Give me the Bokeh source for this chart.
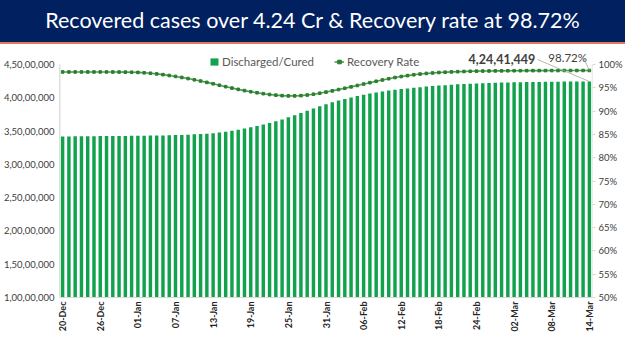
import math
import pandas as pd
from bokeh.plotting import figure
from bokeh.models import (Range1d, LinearAxis, FixedTicker, Legend, LegendItem,
                          Label, Arrow, ColumnDataSource, Div)
from bokeh.layouts import column
from bokeh.embed import file_html
from bokeh.resources import INLINE

# ---------------- data ----------------
title_text = "Recovered cases over 4.24 Cr & Recovery rate at 98.72%"
dates = [d.strftime("%d-%b") for d in pd.date_range("2021-12-20", "2022-03-14")]

discharged_lakh = [
    341.95, 342.03, 342.11, 342.19, 342.27, 342.35, 342.43, 342.51, 342.59, 342.67,
    342.76, 342.85, 342.95, 343.06, 343.18, 343.33, 343.50, 343.71, 343.96, 344.26,
    344.62, 345.04, 345.55, 346.15, 346.90, 347.90, 349.10, 350.50, 352.00, 353.70,
    355.60, 357.60, 359.80, 362.10, 364.60, 367.50, 370.60, 373.90, 377.30, 380.60,
    384.00, 387.20, 390.30, 393.20, 395.80, 398.30, 400.60, 402.70, 404.60, 406.30,
    407.90, 409.40, 410.80, 412.00, 413.10, 414.10, 415.10, 416.00, 416.80, 417.60,
    418.30, 419.00, 419.60, 420.20, 420.70, 421.10, 421.50, 421.90, 422.20, 422.50,
    422.80, 423.00, 423.20, 423.40, 423.60, 423.75, 423.90, 424.02, 424.12, 424.21,
    424.28, 424.34, 424.38, 424.40, 424.41449,
]

recovery_rate = [
    98.40, 98.40, 98.40, 98.40, 98.40, 98.40, 98.40, 98.40, 98.39, 98.38,
    98.36, 98.34, 98.30, 98.22, 98.12, 97.98, 97.82, 97.64, 97.44, 97.22,
    96.98, 96.72, 96.45, 96.16, 95.86, 95.55, 95.24, 94.94, 94.66, 94.40,
    94.16, 93.94, 93.74, 93.56, 93.42, 93.32, 93.26, 93.26, 93.32, 93.44,
    93.62, 93.84, 94.08, 94.34, 94.62, 94.90, 95.20, 95.50, 95.80, 96.10,
    96.40, 96.68, 96.95, 97.20, 97.42, 97.62, 97.80, 97.95, 98.08, 98.19,
    98.28, 98.35, 98.41, 98.46, 98.50, 98.54, 98.57, 98.59, 98.61, 98.63,
    98.64, 98.65, 98.66, 98.67, 98.68, 98.68, 98.69, 98.69, 98.70, 98.70,
    98.71, 98.71, 98.71, 98.72, 98.72,
]

left_ticks = [10000000, 15000000, 20000000, 25000000, 30000000, 35000000, 40000000, 45000000]
left_tick_labels = ["1,00,00,000", "1,50,00,000", "2,00,00,000", "2,50,00,000",
                    "3,00,00,000", "3,50,00,000", "4,00,00,000", "4,50,00,000"]
right_ticks = [50, 55, 60, 65, 70, 75, 80, 85, 90, 95, 100]
right_tick_labels = ["50%", "55%", "60%", "65%", "70%", "75%", "80%", "85%", "90%", "95%", "100%"]
last_value_label = "4,24,41,449"
last_rate_label = "98.72%"

# ---------------- styles / layout ----------------
FONT = "Lato"
NAVY = "#002060"
BAR = "#12A24E"
LINE = "#47A247"
MARK = "#2E7D32"
TXT = "#404040"
BANNER_H = 44
AXIS_H = 233          # pixels from 4.5 Cr / 100% down to 1 Cr / 50%
TOP_PAD = 20          # pixels between the frame top and the 4.5 Cr level
FRAME_W = 535

LEFT_MIN, LEFT_MAX = left_ticks[0], left_ticks[-1]
RIGHT_MIN, RIGHT_MAX = right_ticks[0], right_ticks[-1]
y_per_px = (LEFT_MAX - LEFT_MIN) / AXIS_H
r_per_px = (RIGHT_MAX - RIGHT_MIN) / AXIS_H

discharged = [v * 1e5 for v in discharged_lakh]
idx = list(range(len(dates)))
src = ColumnDataSource(dict(x=idx, date=dates, discharged=discharged, rate=recovery_rate))

# ---------------- banner ----------------
banner = Div(text=title_text, render_as_text=True, width=625, height=BANNER_H,
             styles={"background-color": NAVY, "color": "white",
                     "font-family": "Lato", "font-size": "21.5px",
                     "text-align": "center", "line-height": "41px",
                     "border-bottom": "2px solid #E07A5F",
                     "box-sizing": "border-box", "width": "625px",
                     "height": f"{BANNER_H}px", "margin": "0", "padding": "0"})

# ---------------- chart ----------------
p = figure(width=625, height=351 - BANNER_H,
           x_range=Range1d(-0.5, len(dates) - 0.5),
           y_range=Range1d(LEFT_MIN, LEFT_MAX + TOP_PAD * y_per_px),
           toolbar_location=None, output_backend="svg",
           min_border_left=57, min_border_right=33, min_border_top=0,
           min_border_bottom=54, outline_line_color=None,
           background_fill_color="white", border_fill_color="white")
p.grid.visible = False
p.extra_y_ranges = {"rate": Range1d(RIGHT_MIN, RIGHT_MAX + TOP_PAD * r_per_px)}

bars = p.vbar(x="x", top="discharged", bottom=0, width=0.55, source=src,
              fill_color=BAR, line_color=None)
ln = p.line(x="x", y="rate", source=src, y_range_name="rate", line_color=LINE,
            line_width=1.6)
sc = p.scatter(x="x", y="rate", source=src, y_range_name="rate", marker="square",
               size=2.6, fill_color=MARK, line_color=MARK)

# axis lines limited to the tick span (drawn as segments)
p.segment(x0=[-0.5], y0=[LEFT_MIN], x1=[-0.5], y1=[LEFT_MAX],
          line_color="#BFBFBF", line_width=1.5)
p.segment(x0=[len(dates) - 0.5], y0=[RIGHT_MIN], x1=[len(dates) - 0.5], y1=[RIGHT_MAX],
          y_range_name="rate", line_color="#D9D9D9", line_width=1.5)

# left axis
ya = p.yaxis[0]
ya.ticker = FixedTicker(ticks=left_ticks)
ya.major_label_overrides = dict(zip(left_ticks, left_tick_labels))
ya.axis_line_color = None
ya.major_tick_out = 0
ya.major_tick_in = 0
ya.minor_tick_out = 0
ya.minor_tick_in = 0
ya.major_label_standoff = 5
ya.major_label_text_font = FONT
ya.major_label_text_font_size = "9.5px"
ya.major_label_text_color = TXT

# right axis
ra = LinearAxis(y_range_name="rate", ticker=FixedTicker(ticks=right_ticks),
                major_label_overrides=dict(zip(right_ticks, right_tick_labels)))
ra.axis_line_color = None
ra.major_tick_out = 3
ra.major_tick_in = 0
ra.major_tick_line_color = "#D9D9D9"
ra.minor_tick_out = 0
ra.minor_tick_in = 0
ra.major_label_standoff = 3
ra.major_label_text_font = FONT
ra.major_label_text_font_size = "9.5px"
ra.major_label_text_color = TXT
p.add_layout(ra, "right")

# bottom axis
xa = p.xaxis[0]
xt = idx[::6]
xa.ticker = FixedTicker(ticks=xt)
xa.major_label_overrides = {i: dates[i] for i in xt}
xa.major_label_orientation = math.pi / 2
xa.axis_line_color = "#D9D9D9"
xa.major_tick_out = 0
xa.major_tick_in = 0
xa.minor_tick_out = 0
xa.minor_tick_in = 0
xa.major_label_standoff = 4
xa.major_label_text_font = FONT
xa.major_label_text_font_size = "9px"
xa.major_label_text_font_style = "bold"
xa.major_label_text_color = "#262626"

# legend
legend = Legend(items=[LegendItem(label="Discharged/Cured", renderers=[bars]),
                       LegendItem(label="Recovery Rate", renderers=[ln, sc])],
                orientation="horizontal", location=(150, AXIS_H - 4),
                padding=0, margin=0, spacing=20, label_standoff=3,
                glyph_width=10, glyph_height=9, label_height=12, label_width=10,
                border_line_color=None, background_fill_alpha=0.0,
                label_text_font=FONT, label_text_font_size="11.5px",
                label_text_color="#595959")
p.add_layout(legend)

# data labels on the last point
last = len(dates) - 1
x_per_px = len(dates) / FRAME_W

p.add_layout(Label(x=last, y=discharged[last], text=last_value_label, text_align="right",
                   text_baseline="middle", x_offset=-54, y_offset=23,
                   text_font=FONT, text_font_size="12.5px", text_font_style="bold",
                   text_color=TXT))
p.add_layout(Label(x=last, y=recovery_rate[last], y_range_name="rate", text=last_rate_label,
                   text_align="left", text_baseline="middle", x_offset=-41, y_offset=13,
                   text_font=FONT, text_font_size="11.5px", text_color=TXT))
p.add_layout(Arrow(end=None, x_start=last - 52 * x_per_px,
                   y_start=discharged[last] + 22 * y_per_px,
                   x_end=last, y_end=discharged[last],
                   line_color="#A6A6A6", line_width=0.8))
p.add_layout(Arrow(end=None, x_start=last - 6 * x_per_px,
                   y_start=recovery_rate[last] + 13 * r_per_px,
                   x_end=last, y_end=recovery_rate[last], y_range_name="rate",
                   line_color="#A6A6A6", line_width=0.8))

layout = column(banner, p, spacing=0)
open("out.html", "w").write(file_html(layout, INLINE))
